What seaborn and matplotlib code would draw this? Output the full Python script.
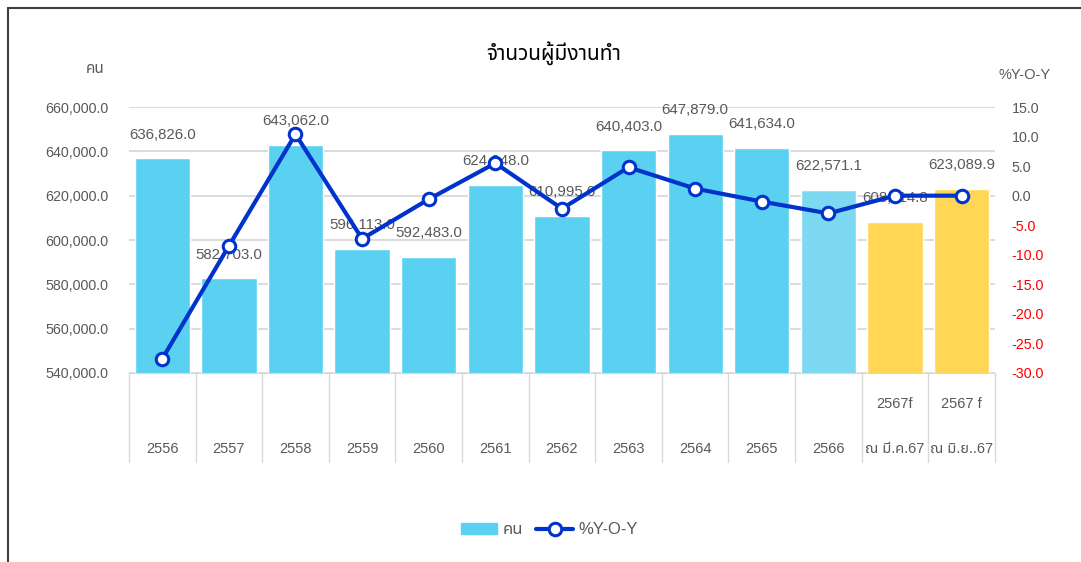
import numpy as np
import pandas as pd
import matplotlib
matplotlib.use("Agg")
import matplotlib.pyplot as plt
import matplotlib.patches as mpatches
from matplotlib.lines import Line2D
import seaborn as sns

# ---------- data ----------
years = ["2556", "2557", "2558", "2559", "2560", "2561", "2562", "2563",
         "2564", "2565", "2566", "2567f", "2567 f"]
sub_labels = ["", "", "", "", "", "", "", "", "", "", "", "ณ มี.ค.67", "ณ มิ.ย..67"]
employed = [636826.0, 582703.0, 643062.0, 596113.0, 592483.0, 624948.0, 610995.0,
            640403.0, 647879.0, 641634.0, 622571.1, 608114.8, 623089.9]
yoy = [-27.6, -8.5, 10.4, -7.3, -0.6, 5.5, -2.2, 4.8, 1.2, -1.0, -3.0, 0.0, 0.0]
bar_colors = ["#5BD1F2"] * 10 + ["#7DD8F2", "#FFD655", "#FFD655"]

left_ticks = [540000, 560000, 580000, 600000, 620000, 640000, 660000]
right_ticks = [-30, -25, -20, -15, -10, -5, 0, 5, 10, 15]

df = pd.DataFrame({"year": years, "employed": employed, "yoy": yoy})

# ---------- style ----------
sns.set_style("white")
plt.rcParams["font.family"] = ["Liberation Sans", "Noto Sans Thai", "Loma", "Garuda",
                               "Tlwg Typo", "Noto Sans", "DejaVu Sans"]
grey = "#595959"

fig = plt.figure(figsize=(10.81, 5.62), dpi=100)
ax = fig.add_axes([0.1193, 0.3363, 0.8011, 0.4733])

sns.barplot(data=df, x="year", y="employed", hue="year", palette=bar_colors,
            legend=False, width=0.83, ax=ax, saturation=1)
ax.set_ylim(540000, 660000)
ax.set_yticks(left_ticks)
ax.set_yticklabels([f"{v:,.1f}" for v in left_ticks], color=grey, fontsize=10.3)
ax.yaxis.grid(True, color="#D9D9D9", linewidth=1.3)
ax.set_axisbelow(True)
for s in ["top", "right", "left"]:
    ax.spines[s].set_visible(False)
ax.spines["bottom"].set_color("#D9D9D9")
ax.tick_params(axis="y", length=0, pad=15)
ax.tick_params(axis="x", length=0)
ax.set_xticklabels([])
ax.set_xlabel("")
ax.set_ylabel("")

# value labels
for i, v in enumerate(employed):
    ax.annotate(f"{v:,.1f}", (i, v), xytext=(0, 17), textcoords="offset points",
                ha="center", va="center", color=grey, fontsize=10.8)

# category table below the plot
xt = ax.get_xaxis_transform()
for b in np.arange(len(years) + 1) - 0.5:
    ax.plot([b, b], [0, -0.335], transform=xt, color="#D9D9D9", lw=1, clip_on=False)
for i, (y, s) in enumerate(zip(years, sub_labels)):
    if s:
        ax.text(i, -0.115, y, transform=xt, ha="center", va="center", color=grey, fontsize=10.5)
        ax.text(i, -0.285, s, transform=xt, ha="center", va="center", color=grey, fontsize=10.5)
    else:
        ax.text(i, -0.285, y, transform=xt, ha="center", va="center", color=grey, fontsize=10.5)
ax.set_xlim(-0.5, len(years) - 0.5)

# ---------- right axis: %Y-O-Y ----------
ax2 = ax.twinx()
sns.pointplot(data=df, x="year", y="yoy", color="#0033CC", markers="o",
              linestyles="-", ax=ax2, markersize=9, markerfacecolor="white",
              markeredgecolor="#0033CC", markeredgewidth=2.2, linewidth=3)
ax2.set_xlim(-0.5, len(years) - 0.5)
ax2.set_ylim(-30, 15)
ax2.set_yticks(right_ticks)
ax2.set_yticklabels([f"{v:.1f}" for v in right_ticks], fontsize=10.3)
for t, v in zip(ax2.get_yticklabels(), right_ticks):
    t.set_color("#FF0000" if v < 0 else grey)
ax2.tick_params(axis="y", length=0, pad=12)
ax2.set_xlabel("")
ax2.set_ylabel("")
ax2.set_xticklabels([])
for s in ["top", "right", "left", "bottom"]:
    ax2.spines[s].set_visible(False)

# ---------- titles ----------
fig.text(0.512, 0.905, "จำนวนผู้มีงานทำ", ha="center", va="center", fontsize=15,
         fontweight="bold", color="#000000")
fig.text(0.088, 0.878, "คน", ha="center", va="center", fontsize=11, color=grey)
fig.text(0.948, 0.866, "%Y-O-Y", ha="center", va="center", fontsize=10.5, color=grey)

# legend
handles = [mpatches.Patch(color="#5BD1F2", label="คน"),
           Line2D([], [], color="#0033CC", lw=3, marker="o", markersize=9,
                  markerfacecolor="white", markeredgewidth=2.2, label="%Y-O-Y")]
fig.legend(handles=handles, loc="center", bbox_to_anchor=(0.508, 0.057), ncol=2,
           frameon=False, fontsize=12, labelcolor=grey, handlelength=2.2,
           columnspacing=0.8, handletextpad=0.3)

# outer frame: only top and left edges are visible in the original crop
fig.add_artist(Line2D([0.0075, 1.0], [0.986, 0.986], transform=fig.transFigure,
                      color="#404040", lw=1.5))
fig.add_artist(Line2D([0.0075, 0.0075], [0.0, 0.986], transform=fig.transFigure,
                      color="#404040", lw=1.5))

fig.savefig("out.png", dpi=100)
